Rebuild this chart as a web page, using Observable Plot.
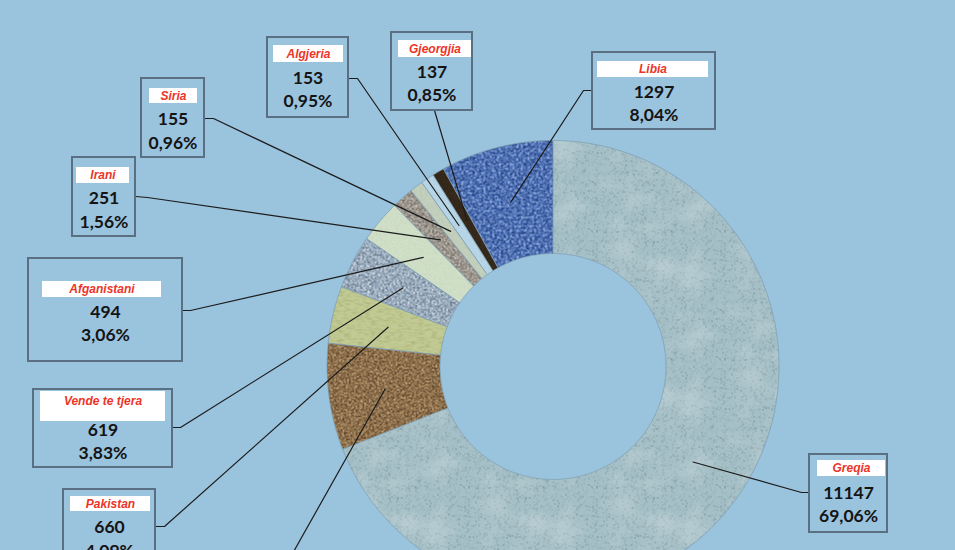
<!DOCTYPE html>
<html><head><meta charset="utf-8">
<script src="https://cdn.jsdelivr.net/npm/d3@7"></script>
<script src="https://cdn.jsdelivr.net/npm/@observablehq/plot@0.6"></script>
<style>
html,body{margin:0;padding:0;background:#9ac3dd;overflow:hidden;}
#chart svg{display:block;overflow:hidden;}
</style></head><body><div id="chart"></div>
<script>
// ---- data ----
const categories = ["Greqia","(pa etiketë)","Pakistan","Vende te tjera","Afganistani","Irani","Siria","Algjeria","Gjeorgjia","Libia"];
const counts = [11147,1228,660,619,494,251,155,153,137,1297];
const countLabels = ["11147","1228","660","619","494","251","155","153","137","1297"];
const percentLabels = ["69,06%","7,61%","4,09%","3,83%","3,06%","1,56%","0,96%","0,95%","0,85%","8,04%"];

// ---- styles ----
const baseColors = ["#a6c0c7","#8a6a45","#c3cb95","#98aec3","#d1e0c8","#9b958c","#c3d1be","#b9d7e8","#3a2d1e","#4a6fba"];
// noise layers per slice: [freq, color, k, c, seed]
const noiseLayers = [
  [["0.9","#60797f",5,-3.05,3],["0.03","#c8dade",1.4,-0.65,8]],
  [["0.6","#4a3320",3,-1.15,4],["0.6","#d6b889",3,-1.3,11]],
  [["0.15 0.9","#9ea86a",2.2,-1.0,5]],
  [["0.55","#56667a",3,-1.15,6],["0.55","#e4ecf2",3,-1.3,13]],
  [["0.8","#b9c9ae",2,-0.95,7]],
  [["0.6","#5c564f",3,-1.15,9],["0.6","#dcd8d0",3,-1.3,15]],
  [["0.8","#a8b6a2",2,-0.95,10]],
  [["0.8","#9fc2d6",2,-0.95,12]],
  [["0.8","#1e160d",2,-0.8,14]],
  [["0.35 0.55","#1f3d7c",3,-1.05,16],["0.45","#9bb8ea",3,-1.3,17]]
];
// ---- layout ----
const W = 955, H = 550;
const cx = 552.5, cy = 366, R = 226, r0 = 113;
const layout = {
  "Greqia":         {box:[809,887,454,532], head:[817,885,460,476], nameY:468,  v1Y:493, v2Y:516, leader:[[809,492],[801,492]]},
  "(pa etiketë)":   {box:null, leader:[[287,562]]},
  "Pakistan":       {box:[63,155,489,566],  head:[70,150,496,511],  nameY:503.5,v1Y:527, v2Y:551, leader:[[155,526],[164,526]]},
  "Vende te tjera": {box:[33,172,389,467],  head:[40,165,391,421],  nameY:401,  v1Y:430, v2Y:453, leader:[[172,427],[180,427]]},
  "Afganistani":    {box:[28,182,258,361],  head:[42,161,281,297],  nameY:289,  v1Y:312, v2Y:335, leader:[[182,310],[190,310]]},
  "Irani":          {box:[72,135,157,236],  head:[76,129,167,183],  nameY:175,  v1Y:198, v2Y:222, leader:[[135,196],[147,197]]},
  "Siria":          {box:[141,204,78,157],  head:[149,197,88,103],  nameY:95.5, v1Y:119, v2Y:143, leader:[[204,118],[213,118]]},
  "Algjeria":       {box:[267,348,37,117],  head:[273,343,45,62],   nameY:54,   v1Y:78,  v2Y:101, leader:[[348,78],[357,78]]},
  "Gjeorgjia":      {box:[391,472,32,110],  head:[398,471,40,57],   nameY:48.5, v1Y:72,  v2Y:95,  leader:[[434,110]]},
  "Libia":          {box:[592,715,52,129],  head:[597,708,61,77],   nameY:69,   v1Y:92,  v2Y:115, leader:[[592,90],[583,90]]}
};

const data = categories.map((name,i)=>({name, count:counts[i], countLabel:countLabels[i], pct:percentLabels[i], i}));
const arcs = d3.pie().sort(null).value(d=>d.count)(data);

// slice polygons computed from the pie angles
const slicePolys = arcs.map(a=>{
  const pts = [];
  const n = Math.max(2, Math.ceil((a.endAngle-a.startAngle)/0.008));
  for (let k=0;k<=n;k++){const t=a.startAngle+(a.endAngle-a.startAngle)*k/n; pts.push({x:cx+R*Math.sin(t), y:cy-R*Math.cos(t)});}
  for (let k=n;k>=0;k--){const t=a.startAngle+(a.endAngle-a.startAngle)*k/n; pts.push({x:cx+r0*Math.sin(t), y:cy-r0*Math.cos(t)});}
  return pts;
});

// leader lines: box anchor(s) -> centroid of slice
const leaders = [];
arcs.forEach(a=>{
  const L = layout[a.data.name];
  const mid = (a.startAngle+a.endAngle)/2, rc = (R+r0)/2;
  L.leader.forEach(p=>leaders.push({name:a.data.name, x:p[0], y:p[1]}));
  leaders.push({name:a.data.name, x:cx+rc*Math.sin(mid), y:cy-rc*Math.cos(mid)});
});

const labeled = data.filter(d=>layout[d.name].box);
const boxes = labeled.map(d=>{const L=layout[d.name]; return {name:d.name, x1:L.box[0], x2:L.box[1], y1:L.box[2], y2:L.box[3]};});
const heads = labeled.map(d=>{const L=layout[d.name]; return {name:d.name, x1:L.head[0], x2:L.head[1], y1:L.head[2], y2:L.head[3]};});
const texts = labeled.map(d=>{const L=layout[d.name]; return {name:d.name, cxh:(L.head[0]+L.head[1])/2, cxb:(L.box[0]+L.box[1])/2, nameY:L.nameY, v1Y:L.v1Y, v2Y:L.v2Y, v1:d.countLabel, v2:d.pct};});

const valueFont = {fontFamily:"Lato, 'Open Sans', sans-serif", fontWeight:"bold", fontSize:17.5, fill:"#141414"};

const svg = Plot.plot({
  width: W, height: H, margin: 0,
  x: {domain:[0,W], range:[0,W], axis:null},
  y: {domain:[0,H], range:[0,H], axis:null},
  style: {background:"#9ac3dd"},
  marks: [
    ...slicePolys.map((pts,i)=>Plot.line(pts, {x:"x", y:"y", curve:"linear-closed", fill:`url(#pat${i})`, stroke:"#7f9fb2", strokeWidth:0.8})),
    Plot.line(leaders, {x:"x", y:"y", z:"name", stroke:"#1c1c1c", strokeWidth:1.2}),
    Plot.rect(heads, {x1:"x1", x2:"x2", y1:"y1", y2:"y2", fill:"#ffffff"}),
    Plot.rect(boxes, {x1:"x1", x2:"x2", y1:"y1", y2:"y2", fill:"none", stroke:"#5b6f82", strokeWidth:2}),
    Plot.text(texts, {x:"cxh", y:"nameY", text:"name", fill:"#ec3528", fontStyle:"italic", fontWeight:"bold", fontSize:12, fontFamily:"'Liberation Sans', Arial, sans-serif"}),
    Plot.text(texts, {x:"cxb", y:"v1Y", text:"v1", ...valueFont}),
    Plot.text(texts, {x:"cxb", y:"v2Y", text:"v2", ...valueFont})
  ]
});

// texture patterns
function hexToRgb01(h){const c=d3.rgb(h); return [c.r/255,c.g/255,c.b/255].map(v=>v.toFixed(3));}
let defs = "";
baseColors.forEach((base,i)=>{
  const S = 128;
  let layers = "";
  noiseLayers[i].forEach((l,j)=>{
    const [f,col,k,c,seed] = l; const [r,g,b] = hexToRgb01(col);
    defs += `<filter id="nf${i}_${j}" x="0" y="0" width="1" height="1" color-interpolation-filters="sRGB">
      <feTurbulence type="fractalNoise" baseFrequency="${f}" numOctaves="2" seed="${seed}" stitchTiles="stitch"/>
      <feColorMatrix type="matrix" values="0 0 0 0 ${r} 0 0 0 0 ${g} 0 0 0 0 ${b} ${k} 0 0 0 ${c}"/>
    </filter>`;
    layers += `<rect width="${S}" height="${S}" filter="url(#nf${i}_${j})"/>`;
  });
  defs += `<pattern id="pat${i}" patternUnits="userSpaceOnUse" width="${S}" height="${S}"><rect width="${S}" height="${S}" fill="${base}"/>${layers}</pattern>`;
});
const d = document.createElementNS("http://www.w3.org/2000/svg","defs");
d.innerHTML = defs;
svg.insertBefore(d, svg.firstChild);
document.getElementById("chart").appendChild(svg);
</script>
</body></html>
